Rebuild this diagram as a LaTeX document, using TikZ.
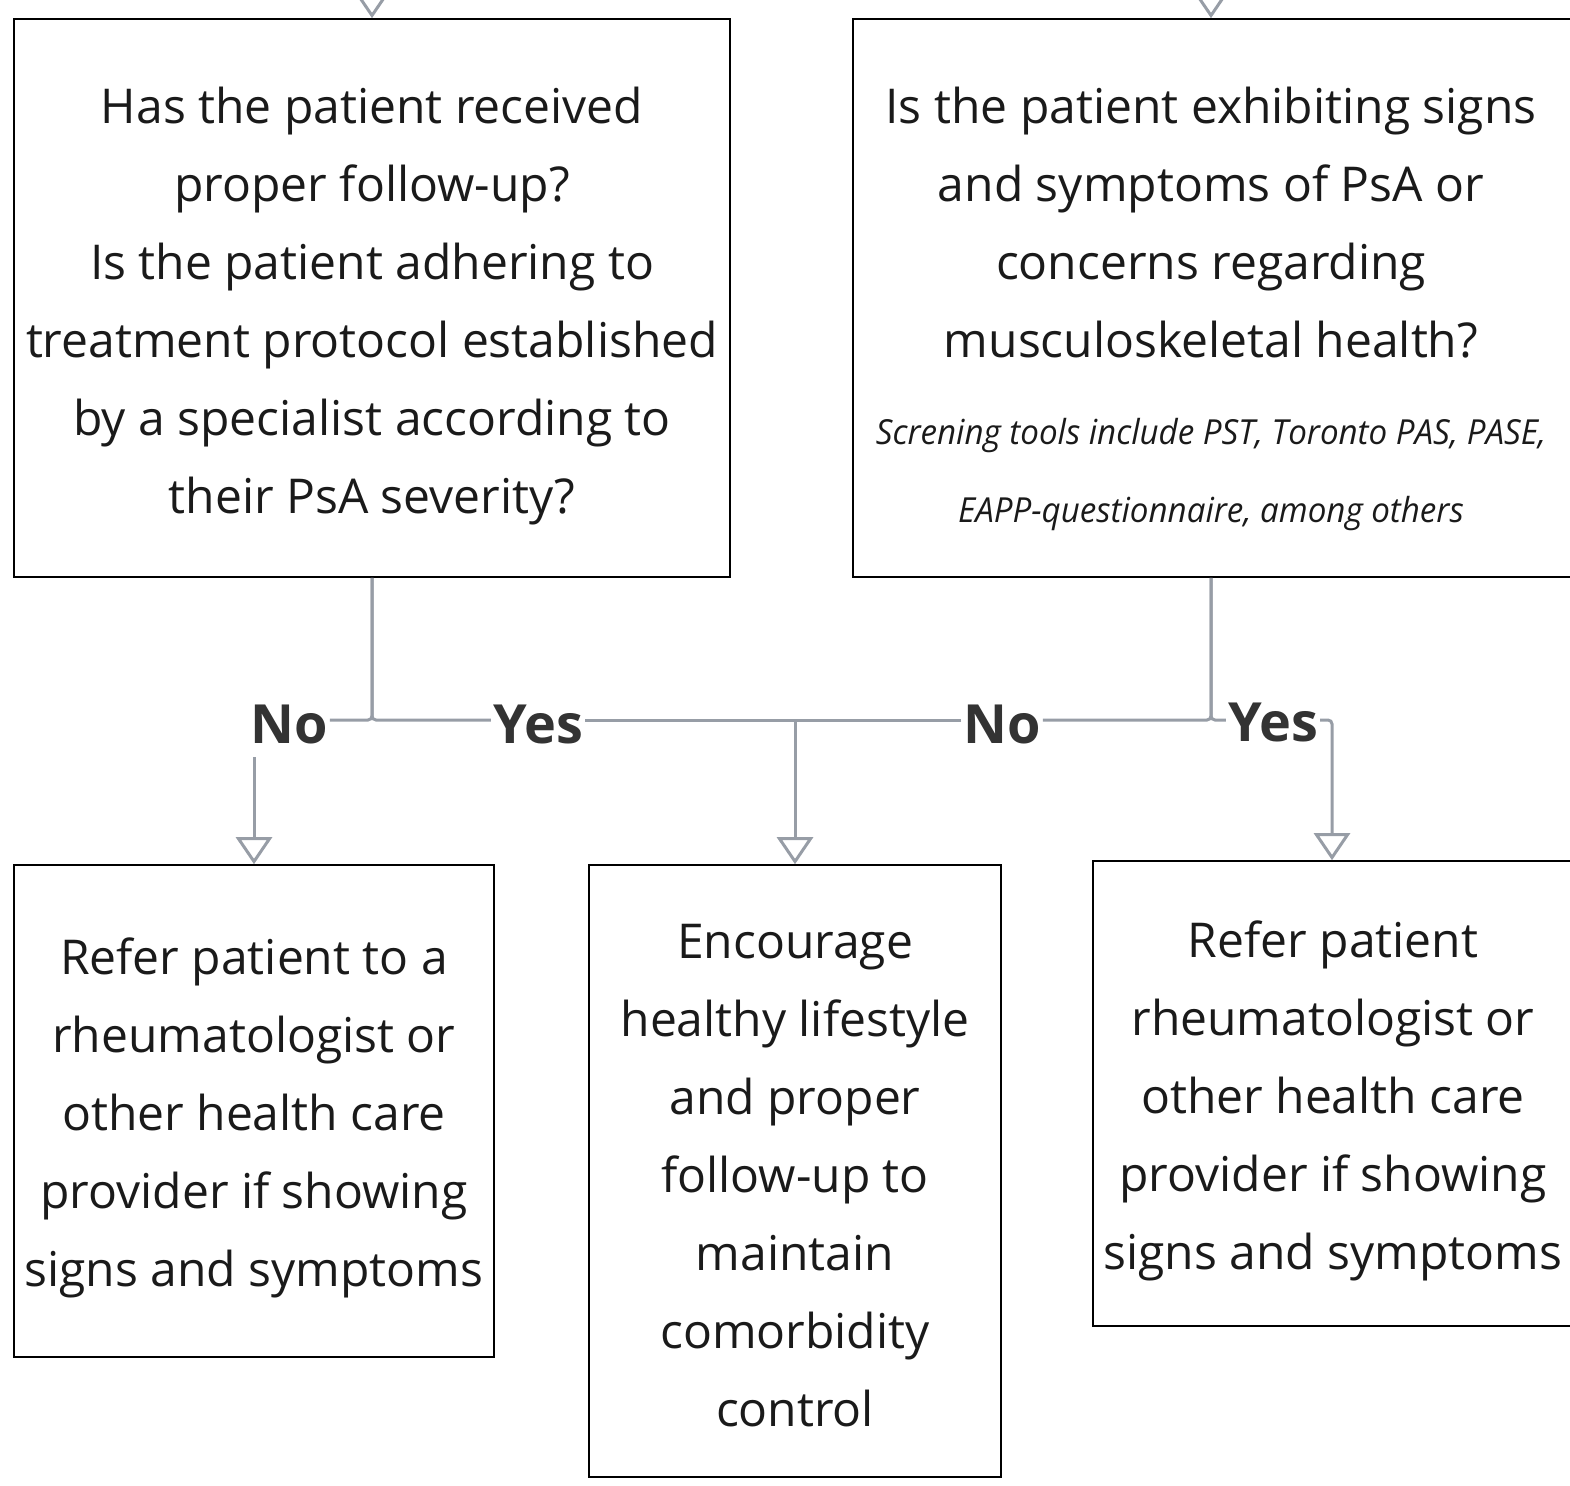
\documentclass[tikz,border=0pt]{standalone}
\usepackage{fontspec}
\setmainfont{Open Sans}
\newfontfamily\condit[FakeStretch=0.96]{Open Sans Italic}
\usetikzlibrary{arrows.meta}
\definecolor{conn}{HTML}{979DA6}
\definecolor{lbl}{HTML}{333333}
\definecolor{txt}{HTML}{1A1A1A}
\tikzset{
  frame/.style={draw=black, line width=1.6pt, inner sep=0pt},
  btext/.style={align=center, text=txt, inner sep=0pt,
    font=\fontsize{48}{78}\selectfont},
  yn/.style={font=\fontsize{54}{60}\selectfont\bfseries, text=lbl, inner sep=2pt},
  conline/.style={draw=conn, line width=3pt, rounded corners=4pt},
  arr/.style={conline, -{Triangle[open, width=36pt, length=27pt, line width=3pt]}},
}
\begin{document}
\begin{tikzpicture}[x=1pt,y=-1pt]
\useasboundingbox (0,0) rectangle (1570,1485);
\node[frame, minimum width=716pt, minimum height=558pt] (A) at (372,298) {};
\node[frame, minimum width=720pt, minimum height=558pt] (B) at (1213,298) {};
\node[frame, minimum width=480pt, minimum height=492pt] (C) at (254,1111) {};
\node[frame, minimum width=412pt, minimum height=612pt] (D) at (795,1171) {};
\node[frame, minimum width=480pt, minimum height=465pt] (E) at (1333,1093.5) {};

\node[btext] (At) at (372,306)
 {Has the patient received\\proper follow-up?\\Is the patient adhering to\\treatment protocol established\\by a specialist according to\\their PsA severity?};
\node[btext] (Bt) at (1211,309)
 {Is the patient exhibiting signs\\and symptoms of PsA or\\concerns regarding\\musculoskeletal health?\\[9pt]
 {\condit\fontsize{34.5}{78}\selectfont Screning tools include PST, Toronto PAS, PASE,}\\
 {\condit\fontsize{34.5}{78}\selectfont EAPP-questionnaire, among others}};
\node[btext] (Ct) at (254,1118)
 {Refer patient to a\\rheumatologist or\\other health care\\provider if showing\\signs and symptoms};
\node[btext] (Dt) at (795,1176)
 {Encourage\\healthy lifestyle\\and proper\\follow-up to\\maintain\\comorbidity\\control};
\node[btext] (Et) at (1333,1101)
 {Refer patient\\rheumatologist or\\other health care\\provider if showing\\signs and symptoms};

\coordinate (inA) at (372,-20);
\coordinate (inB) at (1211,-20);
\draw[arr] (inA) -- (A.north);
\draw[arr] (inB) -- (A.north -| inB);

\node[yn] (no1) at (289,724) {No};
\node[yn] (yes1) at (538,724) {Yes};
\node[yn] (no2) at (1002,724) {No};
\node[yn] (yes2) at (1273,722) {Yes};

\coordinate (jA) at (372,720);
\coordinate (jB) at (1211,720);
\coordinate (jD) at (795,720);
\coordinate (jE) at (1332,720);
\coordinate (sC) at (254,757);

\draw[conline] (A.south) -- (jA) -- (no1.east |- jA);
\draw[conline] (A.south) -- (jA) -- (yes1.west |- jA);
\draw[conline] (yes1.east |- jA) -- (jD);
\draw[arr] (sC) -- (C.north);
\draw[arr] (jD) -- (D.north);
\draw[conline] (B.south -| jB) -- (jB) -- (no2.east |- jB);
\draw[conline] (no2.west |- jB) -- (jD);
\draw[conline] (B.south -| jB) -- (jB) -- (yes2.west |- jB);
\draw[arr] (yes2.east |- jE) -- (jE) -- (E.north -| jE);
\end{tikzpicture}
\end{document}
